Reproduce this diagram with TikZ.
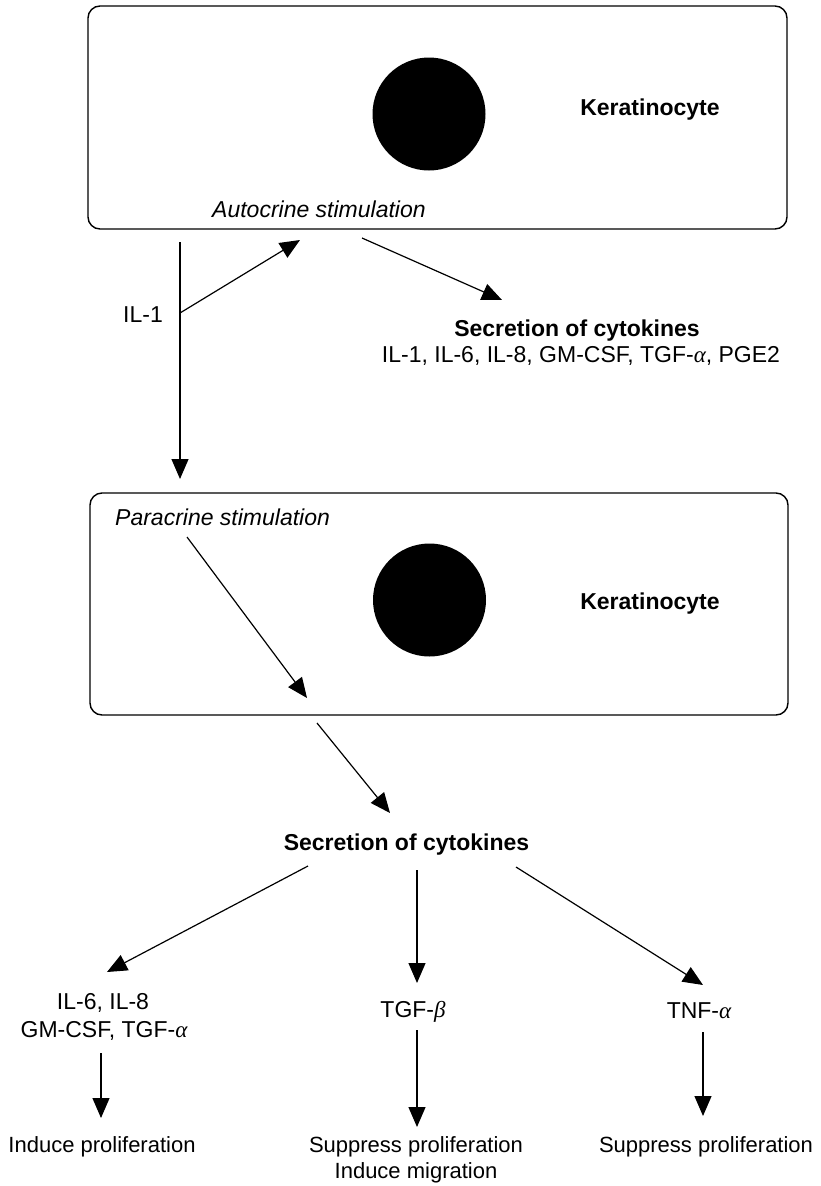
\documentclass[tikz,border=0pt]{standalone}
\usepackage{fontspec}
\setmainfont{Liberation Sans}
\newfontfamily\grkfont{Liberation Serif}
\usetikzlibrary{arrows.meta}
\newcommand{\galpha}{{\grkfont\itshape α}}
\newcommand{\gbeta}{{\grkfont\itshape β}}
\begin{document}
\begin{tikzpicture}[x=1pt,y=-1pt,
  cellbox/.style={draw, line width=1.4pt, rounded corners=12pt, inner sep=0pt},
  nucleus/.style={circle, fill=black, inner sep=0pt, minimum size=113pt},
  lbl/.style={font=\fontsize{23}{27}\selectfont, inner sep=0pt, anchor=base},
  blbl/.style={lbl, font=\fontsize{23}{27}\selectfont\bfseries},
  ilbl/.style={lbl, font=\fontsize{23}{27}\selectfont\itshape},
  slbl/.style={lbl, font=\fontsize{22}{26}\selectfont},
  arr/.style={-{Triangle[length=20pt,width=17pt]}, line width=1.2pt}]
\useasboundingbox (0,0) rectangle (820,1186);

% top cell
\node[cellbox, minimum width=699pt, minimum height=223pt] (box1) at (437.5,117.5) {};
\node[nucleus] (nuc1) at (429,114) {};
\node[blbl] (ker1) at (650,115) {Keratinocyte};
\node[ilbl, anchor=base west] (auto) at (212,217) {Autocrine stimulation};

% IL-1 path
\coordinate (ilstart) at (180,242);
\coordinate (ilend) at (180,479);
\coordinate (ilbranch) at (180,313);
\coordinate (autotip) at (300,240);
\draw[arr] (ilstart) -- (ilend);
\draw[arr] (ilbranch) -- (autotip);
\node[lbl, anchor=base east] (il1) at (163,322) {IL-1};

% secretion 1
\coordinate (sec1s) at (362,238);
\coordinate (sec1e) at (502,300);
\draw[arr] (sec1s) -- (sec1e);
\node[blbl] (sec1) at (577,336) {Secretion of cytokines};
\node[lbl] (sec1list) at (581,362) {IL-1, IL-6, IL-8, GM-CSF, TGF-\galpha, PGE2};

% second cell
\node[cellbox, minimum width=698pt, minimum height=222pt] (box2) at (439,604) {};
\node[nucleus] (nuc2) at (429.5,600) {};
\node[blbl] (ker2) at (650,609) {Keratinocyte};
\node[ilbl, anchor=base west] (para) at (115,525) {Paracrine stimulation};
\coordinate (pars) at (187,537);
\coordinate (pare) at (307,698);
\draw[arr] (pars) -- (pare);
\coordinate (outs) at (317,723);
\coordinate (oute) at (390,813);
\draw[arr] (outs) -- (oute);

% secretion 2
\node[blbl] (sec2) at (406.5,850) {Secretion of cytokines};
\coordinate (ls) at (308,866);
\coordinate (le) at (107,972);
\coordinate (ms) at (417,870);
\coordinate (me) at (417,983);
\coordinate (rs) at (516,867);
\coordinate (re) at (703,985);
\draw[arr] (ls) -- (le);
\draw[arr] (ms) -- (me);
\draw[arr] (rs) -- (re);

\node[lbl] (il68) at (103,1009) {IL-6, IL-8};
\node[lbl] (gmcsf) at (104,1037) {GM-CSF, TGF-\galpha};
\node[lbl] (tgfb) at (413,1017) {TGF-\gbeta};
\node[lbl] (tnfa) at (699,1018) {TNF-\galpha};

\coordinate (d1s) at (101,1053);
\coordinate (d1e) at (101,1118);
\coordinate (d2s) at (417,1030);
\coordinate (d2e) at (417,1127);
\coordinate (d3s) at (703,1032);
\coordinate (d3e) at (703,1116);
\draw[arr] (d1s) -- (d1e);
\draw[arr] (d2s) -- (d2e);
\draw[arr] (d3s) -- (d3e);

\node[slbl] (ind1) at (102,1152) {Induce proliferation};
\node[slbl] (sup1) at (416,1152) {Suppress proliferation};
\node[slbl] (mig) at (416,1178) {Induce migration};
\node[slbl] (sup2) at (706,1152) {Suppress proliferation};
\end{tikzpicture}
\end{document}
